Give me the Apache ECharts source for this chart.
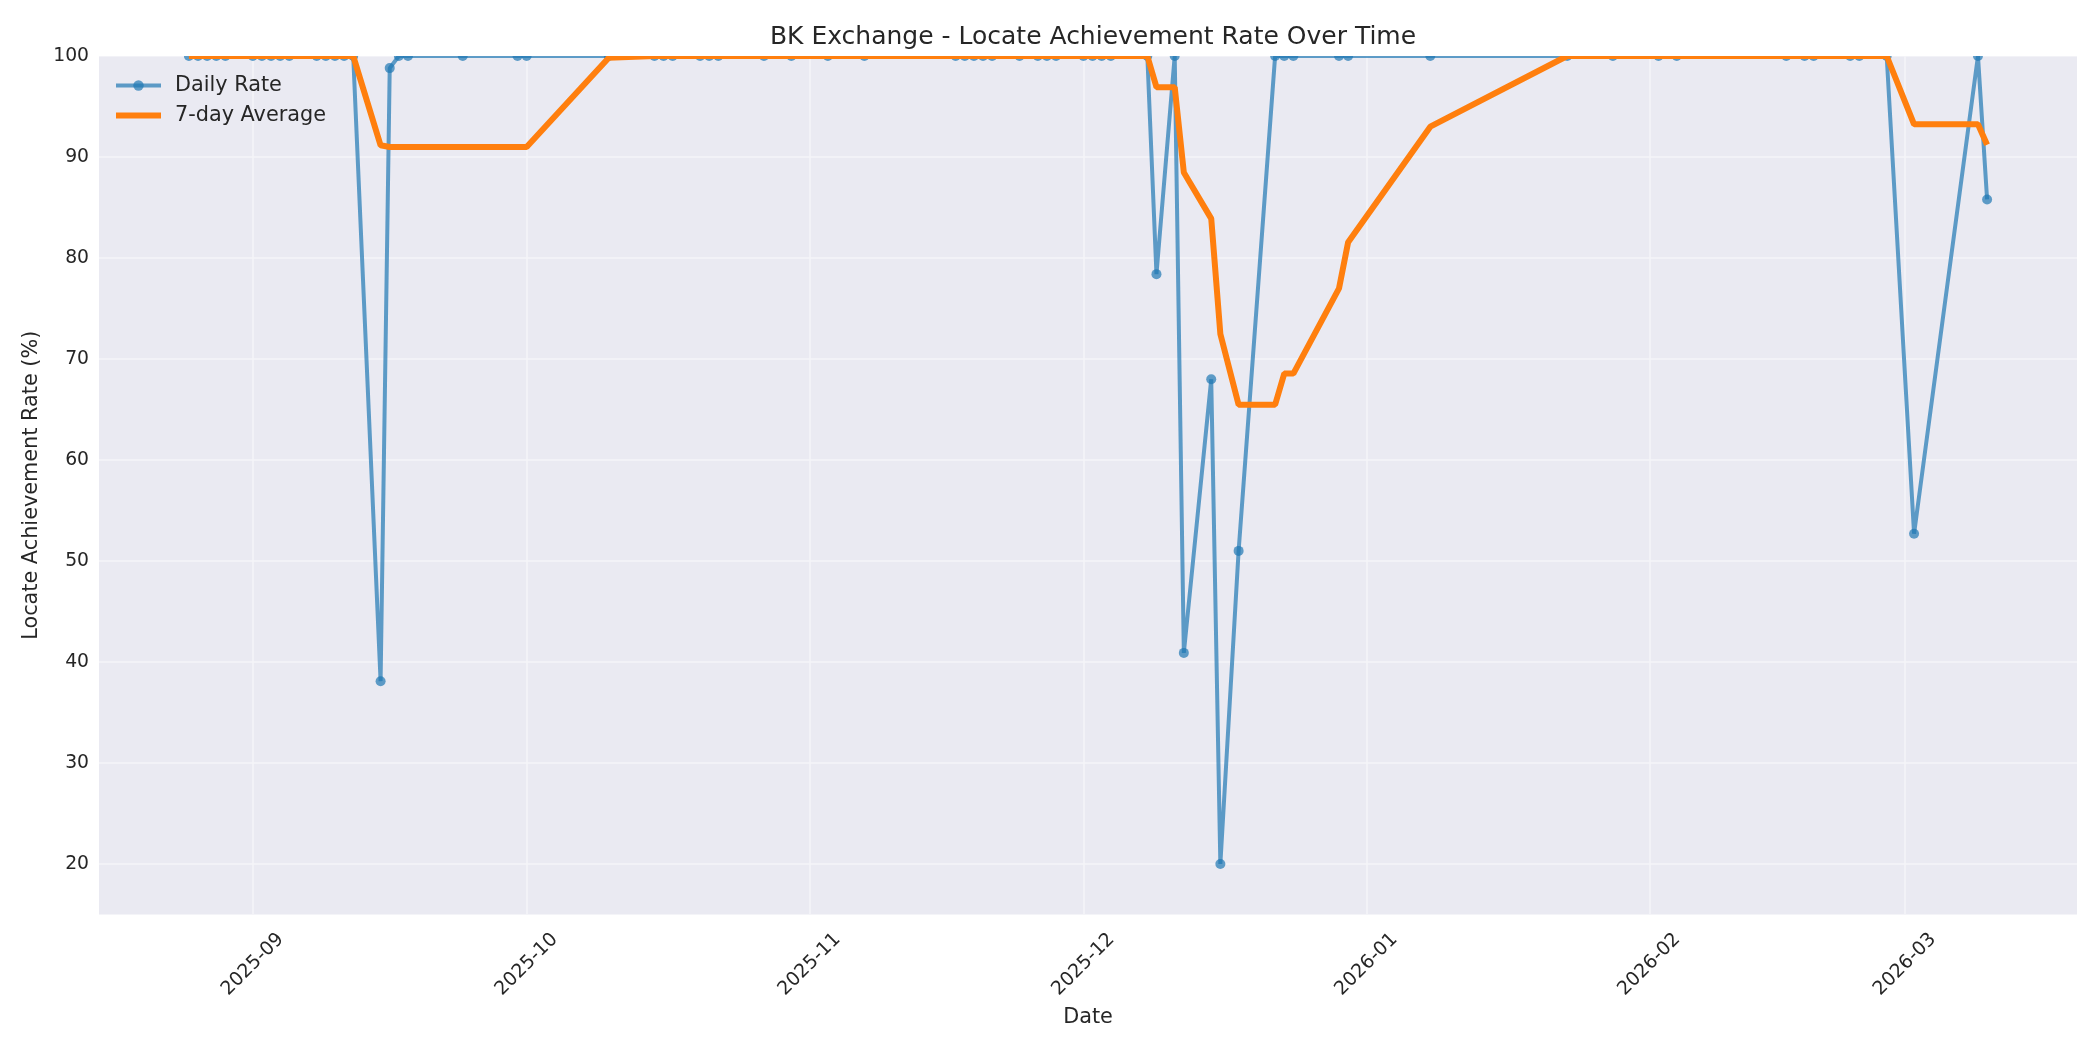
<!DOCTYPE html>
<html>
<head>
<meta charset="utf-8">
<script src="https://cdn.jsdelivr.net/npm/echarts@6/dist/echarts.min.js"></script>
<style>
html,body{margin:0;padding:0;background:#ffffff;}
#chart{width:2100px;height:1050px;}
</style>
</head>
<body>
<div id="chart"></div>
<script>
// ---- data ----
const dates = [
  '2025-08-25','2025-08-26','2025-08-27','2025-08-28','2025-08-29',
  '2025-09-01','2025-09-02','2025-09-03','2025-09-04','2025-09-05',
  '2025-09-08','2025-09-09','2025-09-10','2025-09-11','2025-09-12',
  '2025-09-15','2025-09-16','2025-09-17','2025-09-18','2025-09-24',
  '2025-09-30','2025-10-01','2025-10-10','2025-10-15','2025-10-16',
  '2025-10-17','2025-10-20','2025-10-21','2025-10-22','2025-10-27',
  '2025-10-30','2025-11-03','2025-11-07','2025-11-17','2025-11-18',
  '2025-11-19','2025-11-20','2025-11-21','2025-11-24','2025-11-26',
  '2025-11-27','2025-11-28','2025-12-01','2025-12-02','2025-12-03',
  '2025-12-04','2025-12-08','2025-12-09','2025-12-11','2025-12-12',
  '2025-12-15','2025-12-16','2025-12-18','2025-12-22','2025-12-23',
  '2025-12-24','2025-12-29','2025-12-30','2026-01-08','2026-01-23',
  '2026-01-28','2026-02-02','2026-02-04','2026-02-16','2026-02-18',
  '2026-02-19','2026-02-23','2026-02-24','2026-02-27','2026-03-02',
  '2026-03-09','2026-03-10'
];
const dailyRate = [
  100,100,100,100,100,
  100,100,100,100,100,
  100,100,100,100,100,
  38.1,98.8,100,100,100,
  100,100,100,100,100,
  100,100,100,100,100,
  100,100,100,100,100,
  100,100,100,100,100,
  100,100,100,100,100,
  100,100,78.4,100,40.9,
  68.0,20.0,51.0,100,100,
  100,100,100,100,100,
  100,100,100,100,100,
  100,100,100,100,52.7,
  100,85.8
];
const avg7 = [
  100,100,100,100,100,
  100,100,100,100,100,
  100,100,100,100,100,
  91.16,90.99,90.99,90.99,90.99,
  90.99,90.99,99.83,100,100,
  100,100,100,100,100,
  100,100,100,100,100,
  100,100,100,100,100,
  100,100,100,100,100,
  100,100,96.91,96.91,88.47,
  83.90,72.47,65.47,65.47,68.56,
  68.56,77.00,81.57,93.00,100,
  100,100,100,100,100,
  100,100,100,100,93.24,
  93.24,91.21
];
const monthTicks = ['2025-09-01','2025-10-01','2025-11-01','2025-12-01','2026-01-01','2026-02-01','2026-03-01'];
const yTicks = [20,30,40,50,60,70,80,90,100];

// ---- chart ----
const TEXT = '#262626';
const FONT = 'DejaVu Sans';
function ts(s) { const p = s.split('-'); return Date.UTC(+p[0], +p[1] - 1, +p[2]); }
const xs = dates.map(ts);
const xTickVals = monthTicks.map(ts);
const t0 = xs[0], t1 = xs[xs.length - 1];
const pad = (t1 - t0) * 0.05;

const chart = echarts.init(document.getElementById('chart'), null, {renderer: 'canvas'});
const gridLine = {show: true, lineStyle: {color: '#f4f4f8', width: 1.6}};

chart.setOption({
  animation: false,
  backgroundColor: '#ffffff',
  textStyle: {fontFamily: FONT},
  title: {
    text: 'BK Exchange - Locate Achievement Rate Over Time',
    left: 1088, top: 20, textAlign: 'center', z: 200,
    textStyle: {fontFamily: FONT, fontSize: 25, fontWeight: 'normal', color: TEXT}
  },
  grid: {
    left: 99, right: 23, top: 56, bottom: 135.5,
    show: true, backgroundColor: '#EAEAF2', borderWidth: 0
  },
  legend: {
    orient: 'vertical', left: 113, top: 75, padding: 0,
    itemWidth: 45, itemHeight: 13, itemGap: 9,
    textStyle: {fontFamily: FONT, fontSize: 20.8, color: TEXT, padding: [0, 0, 0, 9]},
    data: [
      {name: 'Daily Rate',
       lineStyle: {width: 4, opacity: 0.7, color: '#1f77b4'},
       itemStyle: {opacity: 0.7, color: '#1f77b4', borderWidth: 0}},
      {name: '7-day Average',
       lineStyle: {width: 6, color: '#ff7f0e'},
       itemStyle: {opacity: 0, borderWidth: 0}}
    ]
  },
  xAxis: {
    type: 'value',
    min: t0 - pad, max: t1 + pad,
    axisLine: {show: false},
    axisTick: {show: false, customValues: xTickVals},
    axisLabel: {
      customValues: xTickVals,
      formatter: function (v) {
        const d = new Date(v);
        const m = d.getUTCMonth() + 1;
        return d.getUTCFullYear() + '-' + (m < 10 ? '0' + m : m);
      },
      rotate: 45, align: 'center', verticalAlign: 'middle', margin: 50,
      fontFamily: FONT, fontSize: 19, color: TEXT
    },
    splitLine: gridLine,
    name: 'Date', nameLocation: 'middle', nameGap: 93,
    nameTextStyle: {fontFamily: FONT, fontSize: 20.8, color: TEXT}
  },
  yAxis: {
    type: 'value', min: 15, max: 100,
    axisLine: {show: false},
    axisTick: {show: false, customValues: yTicks},
    axisLabel: {customValues: yTicks, margin: 10, fontFamily: FONT, fontSize: 18.75, color: TEXT},
    splitLine: gridLine,
    name: 'Locate Achievement Rate (%)', nameLocation: 'middle', nameGap: 53,
    nameTextStyle: {fontFamily: FONT, fontSize: 20.8, color: TEXT}
  },
  graphic: [{
    type: 'rect', z: 100, silent: true,
    shape: {x: 99, y: 0, width: 1978, height: 56},
    style: {fill: '#ffffff'}
  }],
  series: [
    {
      name: 'Daily Rate', type: 'line',
      data: xs.map((x, i) => [x, dailyRate[i]]),
      symbol: 'circle', symbolSize: 10, showSymbol: true, showAllSymbol: true,
      lineStyle: {color: '#1f77b4', width: 4, opacity: 0.7},
      itemStyle: {color: '#1f77b4', opacity: 0.7, borderWidth: 0},
      z: 2
    },
    {
      name: '7-day Average', type: 'line',
      data: xs.map((x, i) => [x, avg7[i]]),
      symbol: 'none', showSymbol: false,
      lineStyle: {color: '#ff7f0e', width: 6},
      itemStyle: {color: '#ff7f0e'},
      z: 3
    }
  ]
});
</script>
</body>
</html>
